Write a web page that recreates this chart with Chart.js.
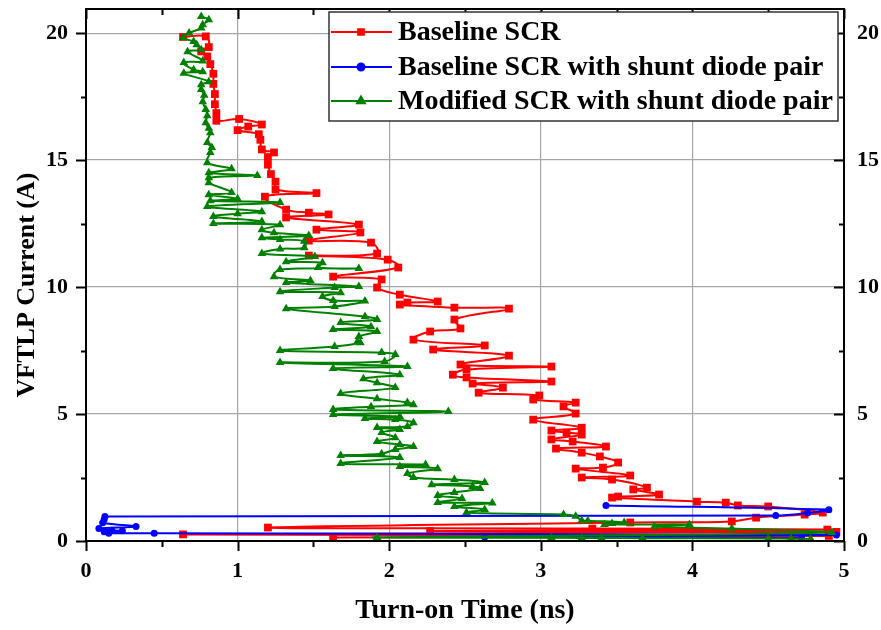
<!DOCTYPE html>
<html>
<head>
<meta charset="utf-8">
<title>VFTLP Turn-on Time</title>
<script src="https://cdn.jsdelivr.net/npm/chart.js@4.4.0/dist/chart.umd.min.js"></script>
<style>
  html, body { margin: 0; padding: 0; background: #fff; }
  #wrap { width: 881px; height: 630px; }
</style>
</head>
<body>
<div id="wrap"><canvas id="chart" width="881" height="630"></canvas></div>
<script>
// Axis ticks
const xMajor = [0, 1, 2, 3, 4, 5];
const xMinor = [0.5, 1.5, 2.5, 3.5, 4.5];
const yMajor = [0, 5, 10, 15, 20];
const yMinor = [2.5, 7.5, 12.5, 17.5];

const seriesNames = ['Baseline SCR', 'Baseline SCR with shunt diode pair', 'Modified SCR with shunt diode pair'];

// Baseline SCR (ordered by current)
const redTime = [0.64,0.79,0.81,0.76,0.80,0.82,0.84,0.84,0.85,0.85,
  0.86,0.86,1.01,1.16,1.07,1.00,1.14,1.15,1.16,1.24,
  1.20,1.20,1.22,1.25,1.25,1.52,1.18,1.32,1.47,1.60,
  1.32,1.80,1.52,1.81,1.47,1.88,1.92,1.47,1.99,2.06,
  1.63,1.95,1.92,2.07,2.32,2.12,2.07,2.43,2.79,2.43,
  2.47,2.27,2.16,2.63,2.29,2.79,2.47,3.07,2.51,2.42,
  2.51,3.07,2.55,2.75,2.59,2.99,2.95,3.23,3.15,3.23,
  2.95,3.27,3.07,3.17,3.27,3.07,3.21,3.43,3.10,3.27,
  3.39,3.51,3.41,3.23,3.59,3.27,3.47,3.70,3.61,3.78,
  3.51,3.47,4.03,4.22,4.30,4.50,4.86,4.74,4.42,4.26,
  3.59,1.20,3.34,4.89,2.27,4.95,0.64,4.90,1.63];
const redCurrent = [19.85,19.87,19.45,19.28,19.08,18.78,18.40,18.00,17.60,17.20,
  16.85,16.55,16.62,16.40,16.32,16.18,16.02,15.80,15.42,15.30,
  15.12,14.82,14.45,14.15,13.84,13.70,13.56,13.05,12.93,12.86,
  12.74,12.46,12.26,12.15,11.83,11.75,11.32,11.24,11.08,10.77,
  10.41,10.30,9.98,9.70,9.43,9.39,9.31,9.19,9.15,8.72,
  8.37,8.25,7.93,7.70,7.54,7.30,6.95,6.87,6.75,6.55,
  6.44,6.28,6.20,6.04,5.84,5.73,5.57,5.45,5.30,5.02,
  4.78,4.46,4.35,4.27,4.19,4.00,3.92,3.72,3.64,3.48,
  3.33,3.09,2.89,2.85,2.58,2.50,2.42,2.10,2.03,1.83,
  1.75,1.71,1.55,1.51,1.40,1.36,1.12,1.04,0.92,0.77,
  0.73,0.53,0.49,0.45,0.39,0.36,0.26,0.20,0.14];

// Baseline SCR with shunt diode pair
const blueTime = [3.43,4.90,4.76,4.55,0.125,0.12,0.11,0.33,0.085,0.17,0.24,0.12,0.15,0.45,4.95,2.63,4.72];
const blueCurrent = [1.40,1.23,1.10,1.00,0.96,0.85,0.72,0.57,0.49,0.42,0.40,0.36,0.31,0.31,0.24,0.16,0.12];

// Modified SCR with shunt diode pair
const greenTime = [0.76,0.81,0.77,0.76,0.68,0.64,0.71,0.73,0.76,0.67,
  0.77,0.645,0.71,0.77,0.645,0.81,0.76,0.76,0.78,0.77,
  0.79,0.80,0.79,0.81,0.82,0.80,0.83,0.82,0.80,0.96,
  0.81,1.13,0.81,0.81,0.96,0.81,1.00,0.82,1.28,0.80,
  1.16,1.00,0.84,1.16,0.84,1.28,1.16,1.24,1.47,1.16,
  1.28,1.44,1.44,1.28,1.16,1.51,1.32,1.56,1.53,1.80,
  1.28,1.24,1.48,1.32,1.80,1.64,1.28,1.68,1.56,1.63,
  1.84,1.64,1.32,1.84,1.92,1.68,1.88,1.63,1.92,1.80,
  1.79,1.81,1.64,1.28,1.95,2.04,1.97,1.28,2.12,1.63,
  2.07,1.83,1.92,2.04,1.68,1.92,2.12,2.16,1.88,1.63,
  2.39,1.63,2.07,1.84,2.04,2.16,2.12,1.92,2.07,1.95,
  2.04,1.92,2.07,2.16,2.04,1.95,1.68,2.07,1.68,2.24,
  2.07,2.32,2.12,2.16,2.43,2.63,2.28,2.55,2.60,2.43,
  2.32,2.48,2.32,2.68,2.43,2.63,2.51,3.15,3.23,3.27,
  3.31,3.55,3.47,3.42,3.98,3.75,4.26,4.92,1.92,3.07,
  3.27,3.40,3.67,4.50,4.65,4.78];
const greenCurrent = [20.65,20.53,20.33,20.20,20.00,19.82,19.67,19.54,19.35,19.27,
  18.90,18.84,18.56,18.48,18.42,18.09,17.97,17.78,17.55,17.30,
  16.99,16.75,16.47,16.25,16.08,15.69,15.50,15.30,14.90,14.66,
  14.50,14.39,14.30,14.11,13.72,13.64,13.48,13.40,13.33,13.17,
  12.97,12.89,12.78,12.58,12.50,12.45,12.26,12.14,12.03,11.94,
  11.87,11.80,11.55,11.50,11.32,11.20,11.00,10.96,10.77,10.73,
  10.69,10.41,10.26,10.18,10.02,9.98,9.82,9.78,9.63,9.47,
  9.45,9.23,9.15,8.84,8.72,8.60,8.44,8.33,8.25,8.05,
  7.85,7.81,7.66,7.50,7.42,7.34,7.07,7.03,6.87,6.79,
  6.55,6.39,6.23,6.04,5.81,5.60,5.45,5.37,5.29,5.18,
  5.10,4.98,4.90,4.82,4.78,4.66,4.51,4.47,4.39,4.27,
  4.07,3.92,3.80,3.72,3.60,3.44,3.37,3.29,3.05,3.01,
  2.93,2.85,2.66,2.50,2.42,2.30,2.22,2.15,2.07,1.91,
  1.79,1.67,1.52,1.50,1.36,1.24,1.12,1.04,0.97,0.81,
  0.80,0.73,0.69,0.65,0.65,0.57,0.49,0.33,0.14,0.13,
  0.12,0.12,0.11,0.10,0.09,0.08];

const serif = '"Liberation Serif", "Times New Roman", serif';

function toPoints(xs, ys) {
  return xs.map((x, i) => ({ x: x, y: ys[i] }));
}

const colors = ['#ff0000', '#0000ff', '#008000'];
const styles = ['rect', 'circle', 'triangle'];

// frame with Origin-like ticks (left/bottom outward, top/right inward)
const frameTicks = {
  id: 'frameTicks',
  afterDraw(chart) {
    const ctx = chart.ctx;
    const a = chart.chartArea;
    const xs = chart.scales.x, ys = chart.scales.y;
    ctx.save();
    ctx.strokeStyle = '#000';
    ctx.lineWidth = 2;
    ctx.strokeRect(a.left, a.top, a.right - a.left, a.bottom - a.top);
    function xt(vals, len) {
      vals.forEach(v => {
        const px = Math.round(xs.getPixelForValue(v)) + 0.5;
        ctx.beginPath();
        ctx.moveTo(px, a.bottom); ctx.lineTo(px, a.bottom + len);
        ctx.moveTo(px, a.top); ctx.lineTo(px, a.top + len);
        ctx.stroke();
      });
    }
    function yt(vals, len) {
      vals.forEach(v => {
        const py = Math.round(ys.getPixelForValue(v)) + 0.5;
        ctx.beginPath();
        ctx.moveTo(a.left, py); ctx.lineTo(a.left - len, py);
        ctx.moveTo(a.right, py); ctx.lineTo(a.right - len, py);
        ctx.stroke();
      });
    }
    xt(xMajor, 10); xt(xMinor, 6);
    yt(yMajor, 10); yt(yMinor, 5);

    // y axis title, placed like the original (slightly below centre)
    ctx.translate(27, 285);
    ctx.rotate(-Math.PI / 2);
    ctx.fillStyle = '#000';
    ctx.font = 'bold 26px ' + serif;
    ctx.textAlign = 'center';
    ctx.textBaseline = 'middle';
    ctx.fillText('VFTLP Current (A)', 0, 0);
    ctx.restore();
  }
};

// legend box in upper right like the original
const boxLegend = {
  id: 'boxLegend',
  afterDraw(chart) {
    const ctx = chart.ctx;
    ctx.save();
    ctx.fillStyle = '#fff';
    ctx.fillRect(329, 12, 509, 109);
    ctx.strokeStyle = '#333';
    ctx.lineWidth = 1.5;
    ctx.strokeRect(329, 12, 509, 109);
    const rows = [32, 67, 101];
    const sizes = [4, 3.5, 4.5];
    rows.forEach((y, i) => {
      ctx.strokeStyle = colors[i];
      ctx.fillStyle = colors[i];
      ctx.lineWidth = 2;
      ctx.beginPath();
      ctx.moveTo(331, y); ctx.lineTo(392, y);
      ctx.stroke();
      Chart.helpers.drawPoint(ctx, { pointStyle: styles[i], radius: sizes[i], rotation: 0, borderWidth: 1 }, 361, y);
      ctx.fillStyle = '#000';
      ctx.font = 'bold 28px ' + serif;
      ctx.textBaseline = 'middle';
      ctx.textAlign = 'left';
      ctx.fillText(seriesNames[i], 398, y + 1);
    });
    ctx.restore();
  }
};

const datasets = [
  { label: seriesNames[0], data: toPoints(redTime, redCurrent), pointStyle: 'rect', pointRadius: 5.5, order: 3 },
  { label: seriesNames[1], data: toPoints(blueTime, blueCurrent), pointStyle: 'circle', pointRadius: 3.5, order: 2 },
  { label: seriesNames[2], data: toPoints(greenTime, greenCurrent), pointStyle: 'triangle', pointRadius: 5, order: 1 }
].map((d, i) => Object.assign(d, {
  showLine: true,
  borderColor: colors[i],
  backgroundColor: colors[i],
  pointBackgroundColor: colors[i],
  pointBorderColor: colors[i],
  pointBorderWidth: 0,
  borderWidth: 2,
  tension: 0.4
}));

const tickFont = { family: serif, size: 22, weight: 'bold' };

// fixed axis sizes so the plot area lands where it is in the original
function fixV(w) {
  return s => { s.width = w; s.paddingTop = 0; s.paddingBottom = 0; };
}

new Chart(document.getElementById('chart'), {
  type: 'scatter',
  data: { datasets: datasets },
  plugins: [frameTicks, boxLegend],
  options: {
    responsive: false,
    animation: false,
    layout: { padding: { top: 9, left: 0, right: 0, bottom: 0 } },
    plugins: { legend: { display: false }, tooltip: { enabled: false } },
    scales: {
      x: {
        type: 'linear', position: 'bottom', min: 0, max: 5,
        afterBuildTicks: s => { s.ticks = xMajor.map(v => ({ value: v })); },
        afterFit: s => { s.height = 89; s.paddingLeft = 0; s.paddingRight = 0; },
        grid: { color: '#a6a6a6', lineWidth: 1.2, drawTicks: false },
        border: { display: false },
        ticks: { font: tickFont, color: '#000', padding: 17, maxRotation: 0, autoSkip: false },
        title: { display: true, text: 'Turn-on Time (ns)', color: '#000',
          font: { family: serif, size: 28, weight: 'bold' }, padding: { top: 0, bottom: 2 } }
      },
      y: {
        type: 'linear', position: 'left', min: 0, max: 20.95,
        afterBuildTicks: s => { s.ticks = yMajor.map(v => ({ value: v })); },
        afterFit: fixV(86),
        grid: { color: '#a6a6a6', lineWidth: 1.2, drawTicks: false },
        border: { display: false },
        ticks: { font: tickFont, color: '#000', padding: 18, autoSkip: false }
      },
      y2: {
        type: 'linear', position: 'right', min: 0, max: 20.95,
        afterBuildTicks: s => { s.ticks = yMajor.map(v => ({ value: v })); },
        afterFit: fixV(37),
        grid: { display: false, drawTicks: false },
        border: { display: false },
        ticks: { font: tickFont, color: '#000', padding: 13, autoSkip: false }
      }
    }
  }
});
</script>
</body>
</html>
